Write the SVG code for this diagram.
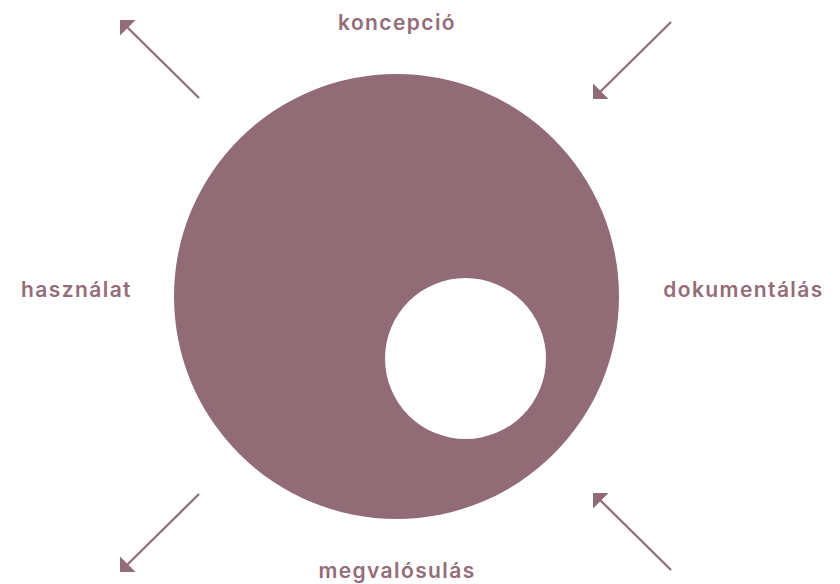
<svg xmlns="http://www.w3.org/2000/svg" width="840" height="584" viewBox="0 0 840 584">
<defs>
<style>
.lbl{font-family:Inter,"Open Sans","Liberation Sans",sans-serif;font-size:21px;font-weight:600;letter-spacing:1.4px;fill:#946c7a;text-anchor:middle}
.arr{stroke:#916b77;stroke-width:2.2;fill:none}
.head{fill:#916b77}
</style>
</defs>
<rect width="840" height="584" fill="#ffffff"/>
<g id="cycle">
<circle cx="396.5" cy="296.5" r="222.5" fill="#916b76"/>
<circle cx="465.5" cy="358.5" r="80.5" fill="#ffffff"/>
</g>
<g id="labels">
<text id="koncepcio" class="lbl" x="397" y="30">koncepció</text>
<text id="dokumentalas" class="lbl" x="743.5" y="297">dokumentálás</text>
<text id="megvalosulas" class="lbl" x="397" y="578">megvalósulás</text>
<text id="hasznalat" class="lbl" x="76.5" y="297">használat</text>
</g>
<g id="connectors">
<line class="arr" x1="199" y1="98" x2="126" y2="26"/>
<polygon class="head" points="120,20 135.5,20 120,35.5"/>
<line class="arr" x1="671" y1="22" x2="599" y2="93"/>
<polygon class="head" points="593,99 593,83.5 608.5,99"/>
<line class="arr" x1="199" y1="494" x2="126" y2="566"/>
<polygon class="head" points="120,572 120,556.5 135.5,572"/>
<line class="arr" x1="671" y1="570" x2="599" y2="499"/>
<polygon class="head" points="593,493 608.5,493 593,508.5"/>
</g>
</svg>
